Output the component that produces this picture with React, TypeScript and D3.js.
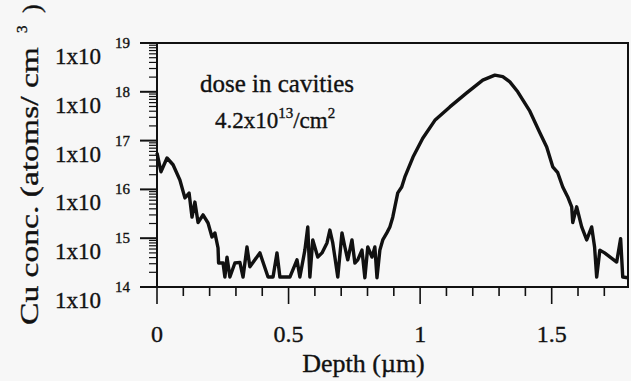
import React, { useRef, useEffect } from "react";
import * as d3 from "d3";

// Cu depth profile (depth in µm, conc in atoms/cm3)
const depth = [
  0, 0.015, 0.038, 0.061, 0.087, 0.106, 0.122, 0.133, 0.144, 0.156,
  0.175, 0.194, 0.209, 0.22, 0.232, 0.234, 0.251, 0.258, 0.266, 0.277,
  0.296, 0.315, 0.327, 0.342, 0.353, 0.391, 0.422, 0.441, 0.456, 0.467,
  0.505, 0.532, 0.543, 0.562, 0.573, 0.581, 0.592, 0.611, 0.627, 0.646,
  0.657, 0.668, 0.676, 0.687, 0.703, 0.714, 0.725, 0.741, 0.752, 0.763,
  0.779, 0.79, 0.801, 0.817, 0.828, 0.836, 0.847, 0.858, 0.874, 0.885,
  0.896, 0.904, 0.915, 0.93, 0.942, 0.973, 1.01, 1.056, 1.113, 1.177,
  1.238, 1.284, 1.314, 1.341, 1.371, 1.417, 1.455, 1.481, 1.504, 1.523,
  1.542, 1.561, 1.576, 1.58, 1.595, 1.614, 1.633, 1.652, 1.663, 1.671,
  1.683, 1.701, 1.747, 1.762, 1.77, 1.789,
];
const cuConc = [
  5.6e16, 2.3e16, 4.4e16, 3.2e16, 1.56e16, 6.7e15, 8.4e15, 2.7e15, 5.5e15, 2.1e15,
  3.0e15, 2.05e15, 1.06e15, 1.28e15, 6.3e14, 3.1e14, 3.1e14, 1.6e14, 4.1e14, 1.6e14,
  3.1e14, 3.2e14, 1.6e14, 6.6e14, 2.6e14, 5.0e14, 1.6e14, 1.6e14, 5.0e14, 1.6e14,
  1.6e14, 3.6e14, 1.6e14, 5.7e14, 1.7e15, 1.6e14, 9.2e14, 4.1e14, 5.0e14, 8.0e14,
  1.47e15, 8.0e14, 4.1e14, 1.6e14, 1.28e15, 6.6e14, 3.6e14, 9.2e14, 3.1e14, 3.6e14,
  5.7e14, 1.55e14, 6.6e14, 4.1e14, 6.6e14, 1.55e14, 5.7e14, 9.2e14, 1.3e15, 1.7e15,
  2.7e15, 4.4e15, 8.5e15, 1.12e16, 1.8e16, 4.6e16, 1.12e17, 2.6e17, 4.9e17, 9.5e17,
  1.74e18, 2.2e18, 2.05e18, 1.6e18, 1.0e18, 4.0e17, 1.45e17, 7.4e16, 2.9e16, 2.2e16,
  1.12e16, 7.0e15, 4.4e15, 2.1e15, 4.4e15, 1.7e15, 9.2e14, 1.7e15, 6.6e14, 1.6e14,
  5.7e14, 5.0e14, 3.25e14, 9.8e14, 1.6e14, 1.55e14,
];
const xMajorTicks = [0, 0.5, 1, 1.5];
const xTickLabels = ["0", "0.5", "1", "1.5"];
const yExponents = [14, 15, 16, 17, 18, 19];

export default function App() {
  const svgRef = useRef<SVGSVGElement>(null);

  useEffect(() => {
    if (!svgRef.current) return;
    const svg = d3.select(svgRef.current);
    svg.selectAll("*").remove();

    const width = 631;
    const height = 381;
    const margin = { top: 43, right: 3, bottom: 94, left: 157 };
    const font = "'Liberation Serif', 'Times New Roman', serif";
    const ink = "#111";

    svg.append("rect").attr("width", width).attr("height", height).attr("fill", "#f7f7f7");

    const x = d3.scaleLinear().domain([0, 1.79]).range([margin.left, width - margin.right]);
    const y = d3.scaleLog().domain([1e14, 1e19]).range([height - margin.bottom, margin.top]);
    const x0 = x.range()[0], x1 = x.range()[1];
    const y0 = y.range()[0], y1 = y.range()[1];

    // scanned look: text a little heavier than normal
    const txt = (sel: any, size: number) =>
      sel.style("font-family", font).style("font-size", `${size}px`)
        .style("fill", ink).style("stroke", ink).style("stroke-width", 0.35);

    // frame
    svg.append("rect")
      .attr("x", x0).attr("y", y1)
      .attr("width", x1 - x0).attr("height", y0 - y1)
      .attr("fill", "none").attr("stroke", ink).attr("stroke-width", 2);

    // x ticks: minor every 0.1, major every 0.5
    const xMinor = d3.range(0, 18).map(i => i / 10);
    svg.append("g").selectAll("line").data(xMinor).join("line")
      .attr("x1", d => x(d)).attr("x2", d => x(d))
      .attr("y1", y0).attr("y2", d => y0 + (xMajorTicks.some(m => Math.abs(m - d) < 1e-6) ? 17 : 9))
      .attr("stroke", ink).attr("stroke-width", 1.6);

    txt(svg.append("g").selectAll("text").data(xMajorTicks).join("text")
      .attr("x", d => x(d)).attr("y", 342)
      .attr("text-anchor", "middle"), 24)
      .text((d, i) => xTickLabels[i]);

    // y ticks: log minors
    const yMinor: number[] = [];
    yExponents.slice(0, -1).forEach(e => {
      for (let k = 2; k <= 9; k++) yMinor.push(k * Math.pow(10, e));
    });
    svg.append("g").selectAll("line").data(yMinor).join("line")
      .attr("x1", x0 - 8).attr("x2", x0)
      .attr("y1", d => y(d)).attr("y2", d => y(d))
      .attr("stroke", ink).attr("stroke-width", 1.2);
    svg.append("g").selectAll("line").data(yExponents).join("line")
      .attr("x1", x0 - 17).attr("x2", x0)
      .attr("y1", d => y(Math.pow(10, d))).attr("y2", d => y(Math.pow(10, d)))
      .attr("stroke", ink).attr("stroke-width", 2);

    const yLab = svg.append("g").selectAll("g").data(yExponents).join("g");
    txt(yLab.append("text")
      .attr("x", 101).attr("y", d => y(Math.pow(10, d)) + 21)
      .attr("text-anchor", "end"), 23)
      .text("1x10");
    txt(yLab.append("text")
      .attr("x", 115).attr("y", d => y(Math.pow(10, d)) + 5), 15)
      .text(d => `${d}`);

    // axis titles
    txt(svg.append("text")
      .attr("x", (x0 + x1) / 2 - 29).attr("y", 372)
      .attr("text-anchor", "middle"), 26)
      .text("Depth (µm)");

    const yTitle = svg.append("g").attr("transform", "translate(38,325) rotate(-90)");
    txt(yTitle.append("text")
      .attr("x", 0).attr("y", 0)
      .attr("textLength", 278).attr("lengthAdjust", "spacingAndGlyphs"), 26)
      .text("Cu conc. (atoms/ cm");
    txt(yTitle.append("text").attr("x", 292).attr("y", -11), 15).text("3");
    txt(yTitle.append("text").attr("x", 312).attr("y", 2), 26).text(")");

    // annotation
    txt(svg.append("text")
      .attr("x", 277).attr("y", 92)
      .attr("text-anchor", "middle"), 25)
      .text("dose in cavities");
    const dose = txt(svg.append("text")
      .attr("x", 275).attr("y", 128)
      .attr("text-anchor", "middle"), 23);
    dose.append("tspan").text("4.2x10");
    dose.append("tspan").attr("dy", -10).style("font-size", "15px").text("13");
    dose.append("tspan").attr("dy", 10).text("/cm");
    dose.append("tspan").attr("dy", -10).style("font-size", "15px").text("2");

    // profile
    const pts = depth.map((d, i) => [d, cuConc[i]] as [number, number]);
    const line = d3.line<[number, number]>()
      .x(d => x(d[0]))
      .y(d => y(d[1]))
      .curve(d3.curveLinear);
    svg.append("path")
      .datum(pts)
      .attr("fill", "none")
      .attr("stroke", ink)
      .attr("stroke-width", 3.4)
      .attr("stroke-linejoin", "round")
      .attr("d", line);
  }, []);

  return (
    <svg
      ref={svgRef}
      width={631}
      height={381}
      style={{ position: "absolute", left: 0, top: 0, display: "block" }}
    />
  );
}
